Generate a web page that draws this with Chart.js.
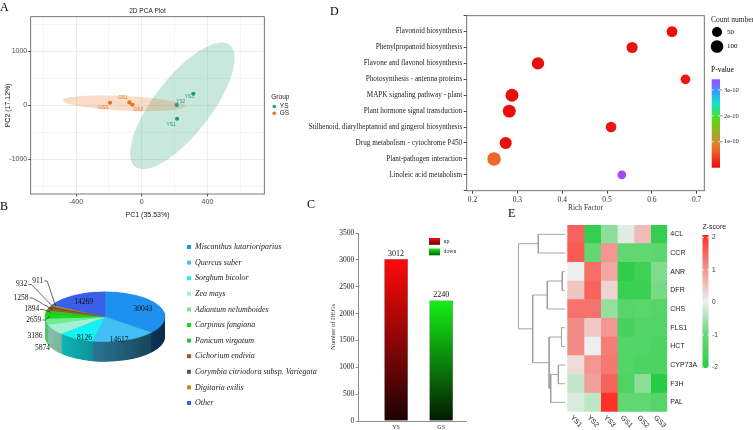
<!DOCTYPE html>
<html>
<head>
<meta charset="utf-8">
<title>Figure</title>
<script src="https://cdn.jsdelivr.net/npm/chart.js@4.4.1/dist/chart.umd.min.js"></script>
<style>
body { margin: 0; background: #fff; }
#fig { position: relative; width: 753px; height: 430px; overflow: hidden; background: #fff; }
#fig canvas { position: absolute; }
.tag { position: absolute; font: 12px "Liberation Serif", serif; line-height: 12px; color: #000; }
</style>
</head>
<body>
<div id="fig">
  <canvas id="pca" width="300" height="222" style="left:0;top:0"></canvas>
  <canvas id="kegg" width="453" height="215" style="left:300px;top:0"></canvas>
  <canvas id="pie" width="340" height="190" style="left:0;top:228px"></canvas>
  <canvas id="degs" width="170" height="215" style="left:300px;top:215px"></canvas>
  <canvas id="tree" width="58" height="215" style="left:510px;top:215px"></canvas>
  <canvas id="heat" width="193" height="215" style="left:560px;top:215px"></canvas>
  <div class="tag" style="left:0;top:1px">A</div>
  <div class="tag" style="left:0;top:200px">B</div>
  <div class="tag" style="left:307px;top:198px">C</div>
  <div class="tag" style="left:330px;top:5px">D</div>
  <div class="tag" style="left:508px;top:207px">E</div>
</div>
<script>
// ---- A: PCA
const pcaSamples = ['YS1', 'YS2', 'YS3', 'GS1', 'GS2', 'GS3'];
const pcaGroups = ['YS', 'GS'];
const pc1 = [215, 213, 314, -75, -57, -193];
const pc2 = [-248, 5, 215, 55, 11, 48];
const pcaXTicks = [-600, -400, -200, 0, 200, 400, 600];
const pcaYTicks = [-1500, -1000, -500, 0, 500, 1000, 1500];

// ---- B: species hits
const species = ['Miscanthus lutarioriparius', 'Quercus suber', 'Sorghum bicolor', 'Zea mays',
  'Adiantum nelumboides', 'Carpinus fangiana', 'Panicum virgatum', 'Cichorium endivia',
  'Corymbia citriodora subsp. Variegata', 'Digitaria exilis', 'Other'];
const hits = [30043, 14617, 8126, 5874, 3186, 2659, 1894, 1258, 932, 911, 14269];

// ---- C: DEGs
const degGroups = ['YS', 'GS'];
const degCount = [3012, 2240];
const degKind = ['up', 'down'];

// ---- D: KEGG enrichment
const pathways = ['Flavonoid biosynthesis', 'Phenylpropanoid biosynthesis', 'Flavone and flavonol biosynthesis',
  'Photosynthesis - antenna proteins', 'MAPK signaling pathway - plant', 'Plant hormone signal transduction',
  'Stilbenoid, diarylheptanoid and gingerol biosynthesis', 'Drug metabolism - cytochrome P450',
  'Plant-pathogen interaction', 'Linoleic acid metabolism'];
const richFactor = [0.645, 0.556, 0.346, 0.675, 0.288, 0.282, 0.509, 0.274, 0.248, 0.533];
const geneCount = [65, 70, 95, 45, 105, 105, 60, 90, 120, 30];
const pValue = [2e-12, 5e-12, 1e-12, 8e-12, 3e-13, 4e-13, 6e-12, 2e-12, 7e-11, 3.38e-10];

// ---- E: heatmap
const genes = ['4CL', 'CCR', 'ANR', 'DFR', 'CHS', 'FLS1', 'HCT', 'CYP73A', 'F3H', 'PAL'];
const hmSamples = ['YS1', 'YS2', 'YS3', 'GS1', 'GS2', 'GS3'];
const zscore = [
  [1.45, -1.8, -0.7, -0.1, 0.55, -1.8],
  [1.55, -1.0, 0.95, -1.05, -1.05, -1.1],
  [0.0, 1.35, 0.75, -1.9, -1.6, -0.8],
  [0.45, 1.45, 0.3, -1.7, -1.7, -0.85],
  [1.3, 1.3, -0.65, -1.2, -1.15, -1.25],
  [1.05, 0.4, 0.95, -1.5, -1.3, -1.3],
  [1.05, 0.0, 1.2, -1.3, -1.3, -1.4],
  [0.2, 0.95, 1.25, -1.3, -1.4, -1.4],
  [-0.3, 0.85, 1.45, -1.35, -0.7, -2.0],
  [-0.15, -0.35, 1.95, -1.05, -1.05, -1.25]
];
// [nodeA, nodeB, height]; leaves are 0..9, merges become 10, 11, ...
const geneMerges = [[2, 3, 0.58], [5, 6, 0.75], [7, 8, 1.43], [12, 9, 3.06], [11, 13, 3.4],
  [10, 4, 3.79], [0, 1, 5.72], [15, 14, 6.92], [16, 17, 10]];

const SANS = '"Liberation Sans", Arial, sans-serif';
const SERIF = '"Liberation Serif", "Times New Roman", serif';
Chart.defaults.font.family = SERIF;
Chart.defaults.color = '#222';
Chart.defaults.animation = false;
Chart.defaults.responsive = false;
Chart.defaults.events = [];
Chart.defaults.plugins.legend.display = false;
Chart.defaults.plugins.tooltip.enabled = false;

function mix(a, b, t) { return a.map((v, i) => Math.round(v + (b[i] - v) * t)); }
function ramp(stops, t) {
  t = Math.max(0, Math.min(1, t));
  for (let i = 1; i < stops.length; i++) {
    if (t <= stops[i][0]) {
      const [t0, c0] = stops[i - 1], [t1, c1] = stops[i];
      return mix(c0, c1, (t - t0) / (t1 - t0));
    }
  }
  return stops[stops.length - 1][1];
}
const rgb = c => `rgb(${c[0]},${c[1]},${c[2]})`;
const avg = a => a.reduce((s, v) => s + v, 0) / a.length;

// ---------------- A ----------------
const pcaColor = { YS: '#1b9e77', GS: '#e8711c' };
const pcaFill = { YS: 'rgba(27,158,119,0.24)', GS: 'rgba(232,113,28,0.24)' };
const pcaLabelShift = [[-6, 5.5], [4, -3.5], [-4, 3], [-6.5, -5], [6, 4.5], [-7, 4.5]];
const ellipseMajor = 5.05, ellipseMinor = 6.5;
const groupOf = s => s.slice(0, 2);

const pcaDecor = {
  id: 'pcaDecor',
  beforeDatasetsDraw(chart) {
    const { ctx, chartArea: a, scales: { x, y } } = chart;
    ctx.save();
    ctx.beginPath(); ctx.rect(a.left, a.top, a.width, a.height); ctx.clip();
    pcaGroups.forEach(g => {
      const idx = pcaSamples.map((s, i) => i).filter(i => groupOf(pcaSamples[i]) === g);
      const xs = idx.map(i => pc1[i]), ys = idx.map(i => pc2[i]);
      const mx = avg(xs), my = avg(ys), n = xs.length;
      let sxx = 0, syy = 0, sxy = 0;
      for (let i = 0; i < n; i++) {
        sxx += (xs[i] - mx) ** 2; syy += (ys[i] - my) ** 2; sxy += (xs[i] - mx) * (ys[i] - my);
      }
      sxx /= n - 1; syy /= n - 1; sxy /= n - 1;
      // principal axes of the group covariance
      const tr = sxx + syy, det = sxx * syy - sxy * sxy;
      const disc = Math.sqrt(tr * tr / 4 - det);
      const l1 = tr / 2 + disc, l2 = tr / 2 - disc;
      const th = Math.atan2(l1 - sxx, sxy);
      const e1 = [Math.cos(th), Math.sin(th)], e2 = [-Math.sin(th), Math.cos(th)];
      const r1 = ellipseMajor * Math.sqrt(l1), r2 = ellipseMinor * Math.sqrt(l2);
      ctx.beginPath();
      for (let d = 0; d <= 360; d += 4) {
        const u = Math.cos(d * Math.PI / 180) * r1, v = Math.sin(d * Math.PI / 180) * r2;
        const px = x.getPixelForValue(mx + u * e1[0] + v * e2[0]);
        const py = y.getPixelForValue(my + u * e1[1] + v * e2[1]);
        d ? ctx.lineTo(px, py) : ctx.moveTo(px, py);
      }
      ctx.closePath();
      ctx.fillStyle = pcaFill[g];
      ctx.fill();
    });
    ctx.restore();
  },
  afterDraw(chart) {
    const { ctx, chartArea: a, scales: { x, y } } = chart;
    ctx.save();
    ctx.strokeStyle = '#555'; ctx.lineWidth = 0.8;
    ctx.strokeRect(a.left, a.top, a.width, a.height);
    ctx.fillStyle = '#222'; ctx.textAlign = 'center'; ctx.textBaseline = 'middle';
    ctx.font = `6.5px ${SANS}`;
    ctx.fillText('2D PCA Plot', (a.left + a.right) / 2, 11);
    // sample labels
    ctx.font = `4.8px ${SANS}`;
    pcaSamples.forEach((s, i) => {
      ctx.fillStyle = pcaColor[groupOf(s)];
      ctx.fillText(s, x.getPixelForValue(pc1[i]) + pcaLabelShift[i][0], y.getPixelForValue(pc2[i]) + pcaLabelShift[i][1]);
    });
    // legend
    ctx.textAlign = 'left';
    ctx.fillStyle = '#222'; ctx.font = `6.5px ${SANS}`;
    ctx.fillText('Group', a.right + 7, 97);
    pcaGroups.forEach((g, i) => {
      const ly = 106.5 + i * 6.8;
      ctx.fillStyle = pcaColor[g];
      ctx.beginPath(); ctx.arc(a.right + 10, ly, 1.8, 0, Math.PI * 2); ctx.fill();
      ctx.fillStyle = '#222';
      ctx.fillText(g, a.right + 15.5, ly);
    });
    ctx.restore();
  }
};

const pcaMajorX = v => v % 400 === 0;
const pcaMajorY = v => v % 1000 === 0;
new Chart(document.getElementById('pca'), {
  type: 'scatter',
  data: {
    datasets: pcaGroups.map(g => ({
      label: g,
      data: pcaSamples.map((s, i) => ({ x: pc1[i], y: pc2[i], s })).filter(p => groupOf(p.s) === g),
      backgroundColor: pcaColor[g], borderWidth: 0, pointRadius: 2.1
    }))
  },
  options: {
    layout: { padding: { top: 16.7, right: 35.7, left: 0, bottom: 0 } },
    scales: {
      x: {
        min: -676, max: 746,
        afterBuildTicks: s => { s.ticks = pcaXTicks.map(v => ({ value: v })); },
        afterFit: s => { s.height = 28; },
        border: { display: false },
        grid: {
          color: '#ebebeb', tickLength: 2.5,
          lineWidth: c => c.tick && pcaMajorX(c.tick.value) ? 0.9 : 0.45,
          tickColor: c => c.tick && pcaMajorX(c.tick.value) ? '#444' : 'rgba(0,0,0,0)'
        },
        ticks: {
          autoSkip: false, maxRotation: 0, padding: 1,
          color: '#4d4d4d', font: { family: SANS, size: 7 }, callback: v => pcaMajorX(v) ? String(v) : ''
        },
        title: { display: true, text: 'PC1 (35.53%)', color: '#222', font: { family: SANS, size: 7 }, padding: { top: 2, bottom: 3 } }
      },
      y: {
        min: -1640, max: 1640,
        afterBuildTicks: s => { s.ticks = pcaYTicks.map(v => ({ value: v })); },
        afterFit: s => { s.width = 30.7; },
        border: { display: false },
        grid: {
          color: '#ebebeb', tickLength: 2.5,
          lineWidth: c => c.tick && pcaMajorY(c.tick.value) ? 0.9 : 0.45,
          tickColor: c => c.tick && pcaMajorY(c.tick.value) ? '#444' : 'rgba(0,0,0,0)'
        },
        ticks: {
          autoSkip: false, padding: 1,
          color: '#4d4d4d', font: { family: SANS, size: 7 }, callback: v => pcaMajorY(v) ? String(v) : ''
        },
        title: { display: true, text: 'PC2 (17.12%)', color: '#222', font: { family: SANS, size: 7 }, padding: { top: 4, bottom: 1 } }
      }
    }
  },
  plugins: [pcaDecor]
});

// ---------------- D ----------------
const pStops = [[0, [235, 12, 12]], [0.2, [240, 100, 40]], [0.3, [205, 140, 50]], [0.55, [80, 220, 20]],
  [0.72, [20, 225, 200]], [0.86, [50, 160, 250]], [1, [165, 70, 255]]];
const pMax = 3.41e-10;
const pColor = p => ramp(pStops, p / pMax);
const countRadius = n => Math.sqrt(10.3 + 0.294 * n);

const keggDecor = {
  id: 'keggDecor',
  afterDraw(chart) {
    const { ctx, chartArea: a } = chart;
    ctx.save();
    ctx.strokeStyle = '#666'; ctx.lineWidth = 0.9;
    ctx.strokeRect(a.left, a.top, a.width, a.height);
    const lx = a.right + 6.7;
    ctx.fillStyle = '#222'; ctx.textBaseline = 'middle'; ctx.textAlign = 'left';
    ctx.font = `7.5px ${SERIF}`;
    ctx.fillText('Count number', lx, 20);
    [50, 100].forEach((n, i) => {
      const cy = 32 + i * 14.5;
      ctx.fillStyle = '#000';
      ctx.beginPath(); ctx.arc(lx + 6, cy, countRadius(n), 0, Math.PI * 2); ctx.fill();
      ctx.font = `7px ${SERIF}`;
      ctx.fillText(String(n), lx + 16, cy);
    });
    ctx.font = `7.5px ${SERIF}`;
    ctx.fillText('P-value', lx, 70);
    const bx = lx + 0.7, bw = 8.3, top = 79.3, bot = 167.7;
    const g = ctx.createLinearGradient(0, bot, 0, top);
    pStops.forEach(([t, c]) => g.addColorStop(t, rgb(c)));
    ctx.fillStyle = g;
    ctx.fillRect(bx, top, bw, bot - top);
    ctx.font = `6.5px ${SERIF}`;
    [1e-10, 2e-10, 3e-10].forEach((p, i) => {
      const ty = bot - p / pMax * (bot - top);
      ctx.strokeStyle = '#fff'; ctx.lineWidth = 0.8;
      ctx.beginPath(); ctx.moveTo(bx, ty); ctx.lineTo(bx + 1.8, ty); ctx.moveTo(bx + bw - 1.8, ty); ctx.lineTo(bx + bw, ty); ctx.stroke();
      ctx.strokeStyle = '#333'; ctx.lineWidth = 0.6;
      ctx.beginPath(); ctx.moveTo(bx + bw, ty); ctx.lineTo(bx + bw + 2.5, ty); ctx.stroke();
      ctx.fillStyle = '#222';
      ctx.fillText((i + 1) + 'e-10', bx + bw + 4, ty);
    });
    ctx.restore();
  }
};

new Chart(document.getElementById('kegg'), {
  type: 'bubble',
  data: {
    datasets: [{
      data: pathways.map((p, i) => ({ x: richFactor[i], y: i + 1, r: countRadius(geneCount[i]) })),
      backgroundColor: pValue.map(p => rgb(pColor(p))),
      borderWidth: 0
    }]
  },
  options: {
    layout: { padding: { top: 15.7, right: 48.7, left: 0, bottom: 0 } },
    scales: {
      x: {
        type: 'linear', min: 0.187, max: 0.717,
        afterFit: s => { s.height = 24.3; },
        border: { display: false },
        grid: { drawOnChartArea: false, tickLength: 3, tickColor: '#444' },
        ticks: { stepSize: 0.1, includeBounds: false, padding: 1.5, font: { size: 7.5 }, color: '#333', callback: v => v.toFixed(1) },
        title: { display: true, text: 'Rich Factor', font: { size: 7.5 }, color: '#333', padding: { top: 1, bottom: 2 } }
      },
      y: {
        type: 'linear', min: 0, max: 11, reverse: true,
        afterFit: s => { s.width = 166.7; },
        border: { display: false },
        grid: { drawOnChartArea: false, tickLength: 3, tickColor: '#444' },
        ticks: { stepSize: 1, includeBounds: false, autoSkip: false, padding: 1.5, font: { size: 7.2 }, color: '#222', callback: v => pathways[v - 1] || '' }
      }
    }
  },
  plugins: [keggDecor]
});

// ---------------- B ----------------
const pieColors = ['#1e90f0', '#42c0f6', '#14f2f4', '#a4f0d2', '#72ea8e', '#14dc14', '#2cc42c', '#b4501e', '#5a5a5a', '#b48c1e', '#3a5fe8'];
const pieTilt = 25 / 60, pieDepth = 20;
// label offsets (px from pie centre) for the thin slices
const pieLabelAt = { 3: [-62.5, 31.3], 4: [-70, 19.3], 5: [-71.2, 3.3], 6: [-73.3, -7.2], 7: [-84, -18.7], 8: [-83.3, -32.2], 9: [-67.3, -35.7] };
const hexRgb = h => [1, 3, 5].map(i => parseInt(h.slice(i, i + 2), 16));
const total = hits.reduce((s, v) => s + v, 0);

const pie3d = {
  id: 'pie3d',
  beforeDatasetsDraw(chart) {
    const { ctx } = chart;
    const arcs = chart.getDatasetMeta(0).data;
    const cx = arcs[0].x, cy = arcs[0].y, R = arcs[0].outerRadius;
    ctx.save();
    ctx.translate(cx, cy); ctx.scale(1, pieTilt); ctx.translate(-cx, -cy);
    const sides = pieColors.map(c => {
      const g = ctx.createLinearGradient(cx - R, 0, cx + R, 0);
      g.addColorStop(0, rgb(hexRgb(c).map(v => v * 0.82)));
      g.addColorStop(1, rgb(hexRgb(c).map(v => v * 0.3)));
      return g;
    });
    for (let d = pieDepth / pieTilt; d > 0; d -= 1) {
      arcs.forEach((arc, i) => {
        ctx.beginPath();
        ctx.moveTo(cx, cy + d);
        ctx.arc(cx, cy + d, arc.outerRadius, arc.startAngle, arc.endAngle);
        ctx.closePath();
        ctx.fillStyle = sides[i];
        ctx.fill();
      });
    }
  },
  afterDatasetsDraw(chart) {
    chart.ctx.restore();
  },
  afterDraw(chart) {
    const { ctx } = chart;
    const arcs = chart.getDatasetMeta(0).data;
    const cx = arcs[0].x, cy = arcs[0].y, R = arcs[0].outerRadius;
    ctx.save();
    ctx.font = `7.5px ${SERIF}`; ctx.fillStyle = '#111'; ctx.textBaseline = 'middle'; ctx.textAlign = 'center';
    ctx.strokeStyle = '#222'; ctx.lineWidth = 0.7;
    arcs.forEach((arc, i) => {
      const mid = (arc.startAngle + arc.endAngle) / 2;
      if (hits[i] / total > 0.09) {
        const px = cx + 0.7 * R * Math.cos(mid);
        const py = cy + 0.7 * R * Math.sin(mid) * pieTilt + pieDepth * 0.35 * Math.max(0, Math.sin(mid));
        ctx.fillText(String(hits[i]), px, py);
        return;
      }
      const lx = cx + pieLabelAt[i][0], ly = cy + pieLabelAt[i][1];
      ctx.fillText(String(hits[i]), lx, ly);
      if (i >= 5) {
        const w = ctx.measureText(String(hits[i])).width;
        const ex = cx + 0.92 * R * Math.cos(mid), ey = cy + 0.92 * R * Math.sin(mid) * pieTilt;
        ctx.beginPath();
        ctx.moveTo(lx + w / 2 + 1, ly);
        ctx.lineTo(lx + w / 2 + 4, ly);
        ctx.lineTo(ex, ey);
        ctx.stroke();
      }
    });
    // legend
    ctx.textAlign = 'left';
    ctx.font = `italic 8px ${SERIF}`;
    species.forEach((s, i) => {
      const ly = 19 + i * 15.6;
      ctx.fillStyle = pieColors[i];
      ctx.fillRect(187, ly - 2, 4, 4);
      ctx.fillStyle = '#222';
      ctx.fillText(s, 195, ly);
    });
    ctx.restore();
  }
};

new Chart(document.getElementById('pie'), {
  type: 'pie',
  data: {
    labels: species,
    datasets: [{ data: hits, backgroundColor: pieColors, borderColor: pieColors, borderWidth: 0.5, clip: false }]
  },
  options: {
    radius: 60,
    layout: { padding: { left: 0, right: 130, top: 0, bottom: 12.6 } }
  },
  plugins: [pie3d]
});

// ---------------- C ----------------
const barRamp = [['#ff0a0a', '#1c0202'], ['#14f014', '#021a02']];
function barFill(c) {
  const chart = c.chart, a = chart.chartArea;
  if (!a) return barRamp[c.dataIndex][0];
  const top = chart.scales.y.getPixelForValue(degCount[c.dataIndex]);
  const g = chart.ctx.createLinearGradient(0, top, 0, a.bottom);
  g.addColorStop(0, barRamp[c.dataIndex][0]);
  g.addColorStop(1, barRamp[c.dataIndex][1]);
  return g;
}
const degDecor = {
  id: 'degDecor',
  afterDatasetsDraw(chart) {
    const { ctx } = chart;
    ctx.save();
    ctx.font = `8px ${SERIF}`; ctx.fillStyle = '#111'; ctx.textAlign = 'center'; ctx.textBaseline = 'bottom';
    chart.getDatasetMeta(0).data.forEach((bar, i) => ctx.fillText(String(degCount[i]), bar.x, bar.y - 1.5));
    // legend
    ctx.textAlign = 'left'; ctx.textBaseline = 'middle'; ctx.font = `5.8px ${SERIF}`;
    degKind.forEach((k, i) => {
      const y0 = 23 + i * 10.5;
      const g = ctx.createLinearGradient(0, y0, 0, y0 + 6.8);
      g.addColorStop(0, barRamp[i][0]);
      g.addColorStop(1, i ? '#0a5a0a' : '#5a0a0a');
      ctx.fillStyle = g;
      ctx.fillRect(129, y0, 11, 6.8);
      ctx.fillStyle = '#222';
      ctx.fillText(k, 143.5, y0 + 3.4);
    });
    ctx.restore();
  }
};

new Chart(document.getElementById('degs'), {
  type: 'bar',
  data: {
    datasets: [{
      data: degGroups.map((g, i) => ({ x: i + 1, y: degCount[i] })),
      backgroundColor: barFill, borderColor: '#9a9a9a', borderWidth: 0.6, barThickness: 23.3
    }]
  },
  options: {
    layout: { padding: { left: 29, right: 4, top: 18, bottom: 0 } },
    scales: {
      x: {
        type: 'linear', min: 0.17, max: 2.55, offset: false,
        afterFit: s => { s.height = 9; },
        border: { color: '#8c8c8c', width: 1 },
        grid: { offset: false, drawOnChartArea: false, drawTicks: false },
        ticks: { stepSize: 1, includeBounds: false, padding: 2.5, font: { size: 6 }, color: '#333', callback: v => degGroups[v - 1] || '' }
      },
      y: {
        min: 0, max: 3500,
        afterFit: s => { s.width = 29.7; },
        border: { color: '#8c8c8c', width: 1 },
        grid: { drawOnChartArea: false, tickLength: 3, color: '#8c8c8c' },
        ticks: { stepSize: 500, padding: 1.5, font: { size: 7.5 }, color: '#222', callback: v => String(v) },
        title: { display: true, text: 'Number of DEGs', font: { size: 6.5 }, color: '#333', padding: 0 }
      }
    }
  },
  plugins: [degDecor]
});

// ---------------- E: dendrogram ----------------
const nodeY = genes.map((g, i) => i + 0.5);
const nodeH = genes.map(() => 0);
const treeSets = geneMerges.map(([p, q, h]) => {
  const yp = nodeY[p], yq = nodeY[q];
  const set = {
    data: [{ x: nodeH[p], y: yp }, { x: h, y: yp }, { x: h, y: yq }, { x: nodeH[q], y: yq }],
    showLine: true, borderColor: '#9c9c9c', borderWidth: 0.9, pointRadius: 0, tension: 0
  };
  nodeY.push((yp + yq) / 2);
  nodeH.push(h);
  return set;
});
new Chart(document.getElementById('tree'), {
  type: 'scatter',
  data: { datasets: treeSets },
  options: {
    layout: { padding: { left: 8.3, right: 3, top: 10, bottom: 18.3 } },
    scales: {
      x: { type: 'linear', min: 0, max: 10, reverse: true, display: false },
      y: { type: 'linear', min: 0, max: genes.length, reverse: true, display: false }
    }
  }
});

// ---------------- E: heatmap ----------------
const zStops = [[0, [40, 205, 70]], [0.25, [100, 215, 115]], [0.5, [238, 238, 238]], [0.75, [242, 145, 140]], [1, [255, 45, 35]]];
const zColor = z => ramp(zStops, (z + 2) / 4);

const heatDecor = {
  id: 'heatDecor',
  afterDraw(chart) {
    const { ctx, chartArea: a, scales: { x } } = chart;
    ctx.save();
    ctx.fillStyle = '#222'; ctx.font = `7px ${SANS}`; ctx.textBaseline = 'middle'; ctx.textAlign = 'left';
    hmSamples.forEach((s, j) => {
      ctx.save();
      ctx.translate(x.getPixelForValue(j + 0.5) - 4, a.bottom + 5);
      ctx.rotate(Math.PI / 4);
      ctx.fillText(s, 0, 0);
      ctx.restore();
    });
    // colour key
    const bx = 142.5, bw = 6, top = 20, bot = 153;
    const zy = z => top + (2.08 - z) / 4.1 * (bot - top);
    const g = ctx.createLinearGradient(0, zy(-2.02), 0, zy(2.08));
    zStops.forEach(([t, c]) => g.addColorStop(t, rgb(c)));
    ctx.fillStyle = g;
    ctx.fillRect(bx, top, bw, bot - top);
    ctx.fillStyle = '#222'; ctx.font = `7px ${SANS}`;
    ctx.fillText('Z-score', bx, 12.3);
    ctx.font = `6.5px ${SANS}`;
    [2, 1, 0, -1, -2].forEach(v => {
      const ty = zy(v);
      ctx.strokeStyle = '#fff'; ctx.lineWidth = 0.8;
      ctx.beginPath(); ctx.moveTo(bx, ty); ctx.lineTo(bx + 1.5, ty); ctx.moveTo(bx + bw - 1.5, ty); ctx.lineTo(bx + bw, ty); ctx.stroke();
      ctx.fillStyle = '#333';
      ctx.fillText(String(v), bx + bw + 3.5, ty);
    });
    ctx.restore();
  }
};

new Chart(document.getElementById('heat'), {
  type: 'bar',
  data: {
    labels: genes,
    datasets: hmSamples.map((s, j) => ({
      label: s,
      data: genes.map(() => [j, j + 1]),
      backgroundColor: genes.map((g, i) => rgb(zColor(zscore[i][j]))),
      borderWidth: 0, grouped: false, barPercentage: 1, categoryPercentage: 1
    }))
  },
  options: {
    indexAxis: 'y',
    layout: { padding: { left: 7.3, right: 55.7, top: 10, bottom: 18.3 } },
    scales: {
      x: { type: 'linear', min: 0, max: hmSamples.length, display: false },
      y: {
        position: 'right',
        afterFit: s => { s.width = 30; },
        border: { display: false },
        grid: { display: false, drawTicks: false },
        ticks: { padding: 3, font: { family: SANS, size: 7 }, color: '#222' }
      }
    }
  },
  plugins: [heatDecor]
});
</script>
</body>
</html>
